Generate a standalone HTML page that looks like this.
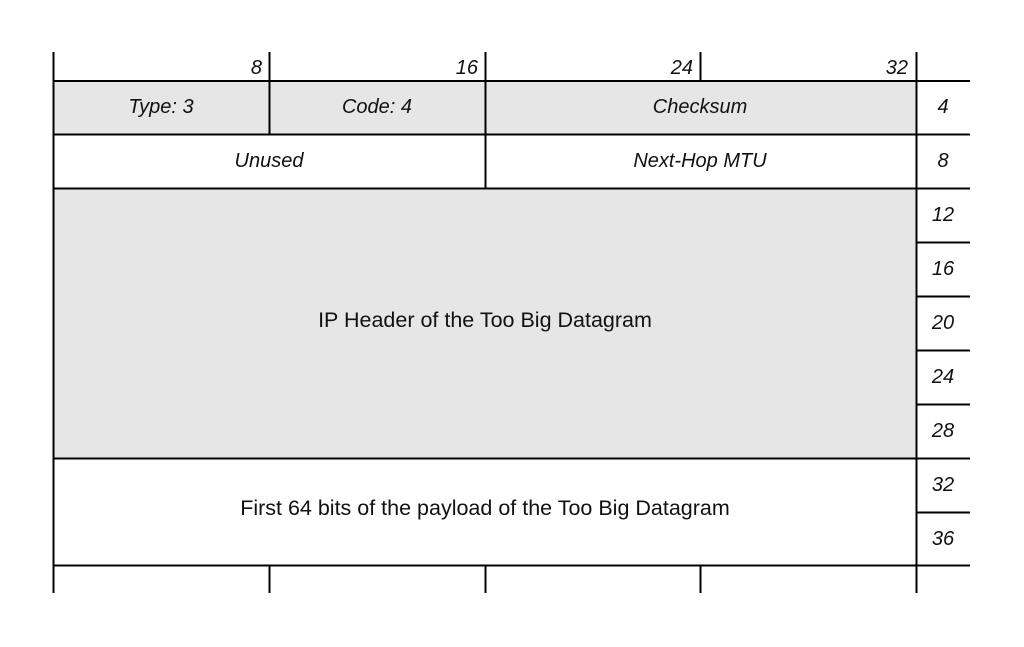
<!DOCTYPE html>
<html><head><meta charset="utf-8"><style>body{margin:0;background:#fff}svg{display:block}</style></head>
<body>
<svg width="1024" height="647" viewBox="0 0 1024 647" xmlns="http://www.w3.org/2000/svg" font-family="Liberation Sans, sans-serif" font-size="20" fill="#111">
<rect x="53" y="81" width="863" height="53" fill="#e6e6e6"/>
<rect x="53" y="188" width="863" height="270" fill="#e6e6e6"/>
<g stroke="#000" stroke-width="2" fill="none">
<line x1="53.5" y1="52" x2="53.5" y2="593"/>
<line x1="916.5" y1="52" x2="916.5" y2="593"/>
<line x1="269.5" y1="52" x2="269.5" y2="134"/>
<line x1="485.5" y1="52" x2="485.5" y2="188"/>
<line x1="700.5" y1="52" x2="700.5" y2="81"/>
<line x1="269.5" y1="565" x2="269.5" y2="593"/>
<line x1="485.5" y1="565" x2="485.5" y2="593"/>
<line x1="700.5" y1="565" x2="700.5" y2="593"/>
<line x1="53" y1="81" x2="970" y2="81"/>
<line x1="53" y1="134.5" x2="970" y2="134.5"/>
<line x1="53" y1="188.5" x2="970" y2="188.5"/>
<line x1="916" y1="242.5" x2="970" y2="242.5"/>
<line x1="916" y1="296.5" x2="970" y2="296.5"/>
<line x1="916" y1="350.5" x2="970" y2="350.5"/>
<line x1="916" y1="404.5" x2="970" y2="404.5"/>
<line x1="53" y1="458.5" x2="970" y2="458.5"/>
<line x1="916" y1="512.5" x2="970" y2="512.5"/>
<line x1="53" y1="565.5" x2="970" y2="565.5"/>
</g>
<g font-style="italic">
<text x="262" y="74" text-anchor="end">8</text>
<text x="478" y="74" text-anchor="end">16</text>
<text x="693" y="74" text-anchor="end">24</text>
<text x="908" y="74" text-anchor="end">32</text>
<text x="161" y="113" text-anchor="middle">Type: 3</text>
<text x="377" y="113" text-anchor="middle">Code: 4</text>
<text x="700" y="113" text-anchor="middle">Checksum</text>
<text x="269" y="167" text-anchor="middle">Unused</text>
<text x="700" y="167" text-anchor="middle">Next-Hop MTU</text>
<g text-anchor="middle">
<text x="943" y="113">4</text>
<text x="943" y="167">8</text>
<text x="943" y="221">12</text>
<text x="943" y="275">16</text>
<text x="943" y="329">20</text>
<text x="943" y="383">24</text>
<text x="943" y="437">28</text>
<text x="943" y="491">32</text>
<text x="943" y="545">36</text>
</g>
</g>
<text x="485" y="327" text-anchor="middle" font-size="21.5">IP Header of the Too Big Datagram</text>
<text x="485" y="515" text-anchor="middle" font-size="21.5">First 64 bits of the payload of the Too Big Datagram</text>
</svg>
</body></html>
